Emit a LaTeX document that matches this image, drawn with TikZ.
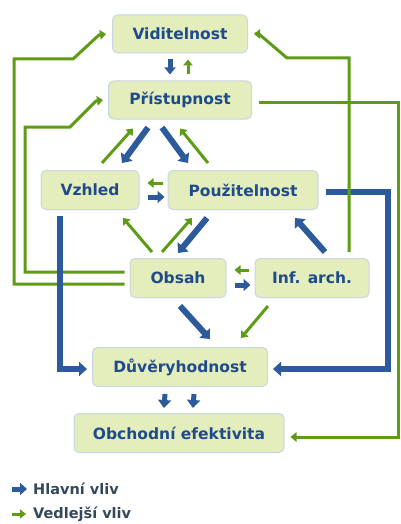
\documentclass[tikz,border=0pt]{standalone}
\usepackage{fontspec}
\setmainfont{DejaVu Sans}
\usetikzlibrary{arrows.meta,calc}
\definecolor{boxfill}{HTML}{E4EDBC}
\definecolor{boxline}{HTML}{C8D6E6}
\definecolor{txtblue}{HTML}{1F4B8C}
\definecolor{arrblue}{HTML}{2C5A9A}
\definecolor{arrgreen}{HTML}{5E9C16}
\definecolor{legtxt}{HTML}{34485C}
\begin{document}
\begin{tikzpicture}[x=1pt,y=-1pt,
  box/.style={draw=boxline, line width=1pt, fill=boxfill, rounded corners=5pt,
    text=txtblue, font=\fontsize{15.5}{18}\selectfont\bfseries, inner sep=0pt},
  major/.style={draw=arrblue, line width=6pt, -{Triangle[width=14pt,length=8pt]}},
  minor/.style={draw=arrgreen, line width=3pt, -{Triangle[width=9.5pt,length=6pt]}},
  legend/.style={text=legtxt, font=\fontsize{14.5}{17}\selectfont\bfseries, inner sep=0pt, anchor=west}
]
\useasboundingbox (0,0) rectangle (400,524);

% nodes
\node[box, minimum width=135pt, minimum height=38pt] (vid)  at (180,34)  {Viditelnost};
\node[box, minimum width=143pt, minimum height=38pt] (pri)  at (180,100) {Přístupnost};
\node[box, minimum width=98pt,  minimum height=39pt] (vzh)  at (90,190)  {Vzhled};
\node[box, minimum width=150pt, minimum height=39pt] (pou)  at (243,190) {Použitelnost};
\node[box, minimum width=96pt,  minimum height=39pt] (obs)  at (178,278) {Obsah};
\node[box, minimum width=114pt, minimum height=39pt] (inf)  at (312,278) {Inf. arch.};
\node[box, minimum width=175pt, minimum height=39pt] (duv)  at (180,367) {Důvěryhodnost};
\node[box, minimum width=210pt, minimum height=39pt] (obch) at (179,433) {Obchodní efektivita};

% long green connectors on the left (Obsah -> Viditelnost, Obsah -> Přístupnost)
\draw[minor] ([xshift=-5pt,yshift=-6pt]obs.west) -| (14,59) -- (73,59) -- (99,35) -- ([xshift=-6pt]vid.west);
\draw[minor] ([xshift=-5pt,yshift=6pt]obs.west) -| (25,127) -- (70,127) -- (96,101) -- ([xshift=-5pt]pri.west);

% long blue connector Vzhled -> Důvěryhodnost
\draw[major] ([xshift=-30pt,yshift=-6pt]vzh.south) |- ([xshift=-5pt,yshift=-2pt]duv.west);

% long blue connector Použitelnost -> Důvěryhodnost
\draw[major] ([xshift=7pt,yshift=-2pt]pou.east) -- (388,192) |- ([xshift=5pt,yshift=-2pt]duv.east);

% long green connector Inf. arch. -> Viditelnost
\draw[minor] ([xshift=37pt,yshift=6pt]inf.north) -- (349,58) -- (287,58) -- (259,34) -- ([xshift=6pt]vid.east);

% long green connector Přístupnost -> Obchodní efektivita
\draw[minor] ([xshift=7pt,yshift=-3pt]pri.east) -- (398,103) |- ([xshift=6pt,yshift=-4pt]obch.east);

% Viditelnost <-> Přístupnost
\draw[major, line width=5pt, -{Triangle[width=11pt,length=7pt]}] ([xshift=-10pt,yshift=-6pt]vid.south) -- ([xshift=-10pt,yshift=6pt]pri.north);
\draw[minor] ([xshift=8pt,yshift=6pt]pri.north) -- ([xshift=8pt,yshift=-6pt]vid.south);

% Přístupnost <-> Vzhled / Použitelnost
\draw[minor] ([xshift=12pt,yshift=7pt]vzh.north) -- ([xshift=-47pt,yshift=-9pt]pri.south);
\draw[major] ([xshift=-32pt,yshift=-8pt]pri.south) -- ([xshift=32pt,yshift=7pt]vzh.north);
\draw[major] ([xshift=-18pt,yshift=-8pt]pri.south) -- ([xshift=-55pt,yshift=7pt]pou.north);
\draw[minor] ([xshift=-35pt,yshift=7pt]pou.north) -- ([xshift=0pt,yshift=-9pt]pri.south);

% Vzhled <-> Použitelnost
\draw[minor] ([xshift=-5pt,yshift=7pt]pou.west) -- ([xshift=8pt,yshift=7pt]vzh.east);
\draw[major, line width=5pt, -{Triangle[width=12pt,length=7pt]}] ([xshift=8pt,yshift=-7pt]vzh.east) -- ([xshift=-3pt,yshift=-7pt]pou.west);

% Obsah -> Vzhled / Použitelnost, Použitelnost -> Obsah
\draw[minor] ([xshift=-26pt,yshift=6pt]obs.north) -- ([xshift=33pt,yshift=-8pt]vzh.south);
\draw[minor] ([xshift=-16pt,yshift=6pt]obs.north) -- ([xshift=-51pt,yshift=-8pt]pou.south);
\draw[major] ([xshift=-36pt,yshift=-8pt]pou.south) -- ([xshift=0pt,yshift=5pt]obs.north);

% Inf. arch. -> Použitelnost
\draw[major] ([xshift=13pt,yshift=6pt]inf.north) -- ([xshift=52pt,yshift=-8pt]pou.south);

% Obsah <-> Inf. arch.
\draw[minor] ([xshift=-6pt,yshift=8pt]inf.west) -- ([xshift=8pt,yshift=8pt]obs.east);
\draw[major, line width=5pt, -{Triangle[width=12pt,length=7pt]}] ([xshift=8pt,yshift=-7pt]obs.east) -- ([xshift=-4pt,yshift=-7pt]inf.west);

% Obsah / Inf. arch. -> Důvěryhodnost
\draw[major] ([xshift=2pt,yshift=-8pt]obs.south) -- ([xshift=30pt,yshift=8pt]duv.north);
\draw[minor] ([xshift=-44pt,yshift=-8pt]inf.south) -- ([xshift=61pt,yshift=9pt]duv.north);

% Důvěryhodnost -> Obchodní efektivita
\draw[major, line width=5pt, -{Triangle[width=13pt,length=8pt]}] ([xshift=-15pt,yshift=-7pt]duv.south) -- ([xshift=-15pt,yshift=5pt]obch.north);
\draw[major, line width=5pt, -{Triangle[width=13pt,length=8pt]}] ([xshift=14pt,yshift=-7pt]duv.south) -- ([xshift=14pt,yshift=5pt]obch.north);

% legend
\node[legend] (legA) at (33,489) {Hlavní vliv};
\node[legend] (legB) at (33,514) {Vedlejší vliv};
\coordinate (la) at (12,489);
\coordinate (lb) at (12,514);
\draw[major, line width=5pt, -{Triangle[width=12pt,length=7pt]}] (la) -- ([xshift=-6pt]legA.west);
\draw[minor, -{Triangle[width=9pt,length=6pt]}] (lb) -- ([xshift=-7pt]legB.west);
\end{tikzpicture}
\end{document}
